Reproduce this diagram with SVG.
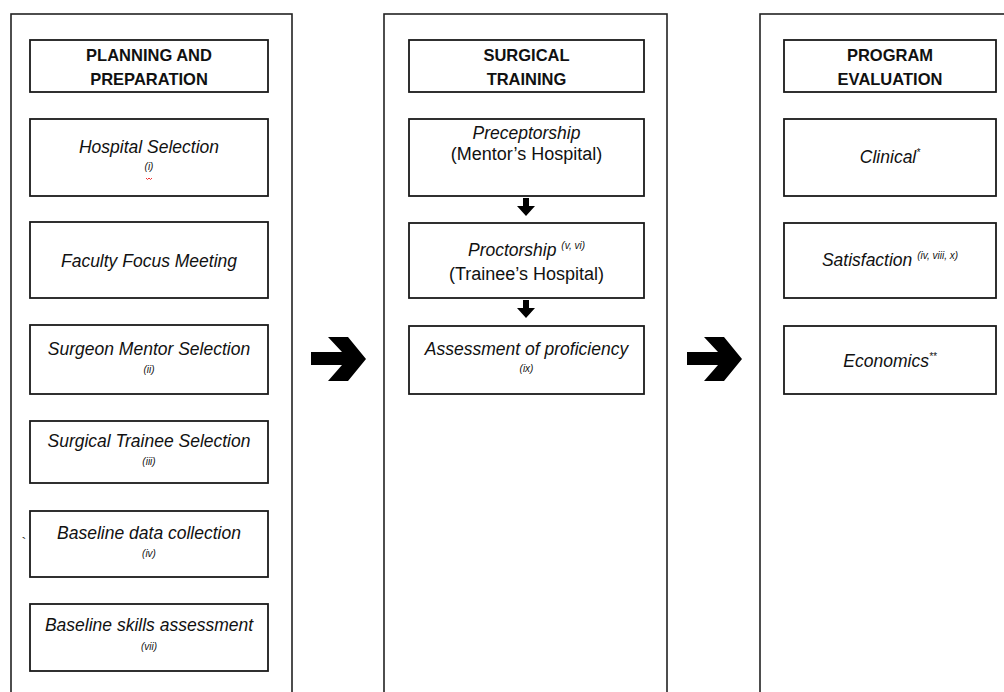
<svg xmlns="http://www.w3.org/2000/svg" width="1004" height="692" viewBox="0 0 1004 692">
<style>
.panel{fill:#fff;stroke:#222;stroke-width:1.6}
.box{fill:#fff;stroke:#1a1a1a;stroke-width:1.8}
text{font-family:"Liberation Sans",Arial,sans-serif;fill:#111;text-anchor:middle}
.hd{font-weight:bold;font-size:16.5px}
.it{font-style:italic;font-size:17.5px}
.up{font-size:18px}
.ref{font-style:italic;font-size:10px}
.sup{font-style:italic;font-size:10px}
.arr{fill:#000}
</style>
<rect width="1004" height="692" fill="#fff"/>
<g id="panel-planning"><rect class="panel" x="11" y="14" width="281" height="700"/></g>
<g id="panel-training"><rect class="panel" x="384" y="14" width="283" height="700"/></g>
<g id="panel-evaluation"><rect class="panel" x="760" y="14" width="300" height="700"/></g>

<g id="planning-header"><rect class="box" x="30" y="40" width="238" height="52"/>
<text class="hd" x="149" y="61">PLANNING AND</text><text class="hd" x="149" y="85">PREPARATION</text></g>
<g id="hospital-selection"><rect class="box" x="30" y="119" width="238" height="77"/>
<text class="it" x="149" y="153">Hospital Selection</text><text class="ref" x="149" y="170">(i)</text>
<path d="M146,178 l1.5,1.5 l1.5,-1.5 l1.5,1.5 l1.5,-1.5" fill="none" stroke="#e33" stroke-width="1"/></g>
<g id="faculty-focus"><rect class="box" x="30" y="222" width="238" height="76"/>
<text class="it" x="149" y="267">Faculty Focus Meeting</text></g>
<g id="surgeon-mentor"><rect class="box" x="30" y="325" width="238" height="69"/>
<text class="it" x="149" y="355">Surgeon Mentor Selection</text><text class="ref" x="149" y="373">(ii)</text></g>
<g id="trainee-selection"><rect class="box" x="30" y="421" width="238" height="62"/>
<text class="it" x="149" y="447">Surgical Trainee Selection</text><text class="ref" x="149" y="465">(iii)</text></g>
<g id="baseline-data"><rect class="box" x="30" y="511" width="238" height="66"/>
<text class="it" x="149" y="539">Baseline data collection</text><text class="ref" x="149" y="557">(iv)</text></g>
<text x="24" y="548" style="font-size:15px;fill:#333">`</text>
<g id="baseline-skills"><rect class="box" x="30" y="604" width="238" height="67"/>
<text class="it" x="149" y="631">Baseline skills assessment</text><text class="ref" x="149" y="650">(vii)</text></g>

<g id="training-header"><rect class="box" x="409" y="40" width="235" height="52"/>
<text class="hd" x="526.5" y="61">SURGICAL</text><text class="hd" x="526.5" y="85">TRAINING</text></g>
<g id="preceptorship"><rect class="box" x="409" y="119" width="235" height="77"/>
<text class="it" x="526.5" y="139">Preceptorship</text><text class="up" x="526.5" y="160">(Mentor’s Hospital)</text></g>
<g id="proctorship"><rect class="box" x="409" y="223" width="235" height="75"/>
<text class="it" x="526.5" y="256">Proctorship <tspan class="sup" dy="-7">(v, vi)</tspan></text><text class="up" x="526.5" y="280">(Trainee’s Hospital)</text></g>
<g id="assessment"><rect class="box" x="409" y="326" width="235" height="68"/>
<text class="it" x="526.5" y="355">Assessment of proficiency</text><text class="ref" x="526.5" y="372">(ix)</text></g>

<g id="evaluation-header"><rect class="box" x="784" y="40" width="212" height="52"/>
<text class="hd" x="890" y="61">PROGRAM</text><text class="hd" x="890" y="85">EVALUATION</text></g>
<g id="clinical"><rect class="box" x="784" y="119" width="212" height="77"/>
<text class="it" x="890" y="163">Clinical<tspan class="sup" dy="-7">*</tspan></text></g>
<g id="satisfaction"><rect class="box" x="784" y="223" width="212" height="75"/>
<text class="it" x="890" y="266">Satisfaction <tspan class="sup" dy="-7">(iv, viii, x)</tspan></text></g>
<g id="economics"><rect class="box" x="784" y="326" width="212" height="68"/>
<text class="it" x="890" y="367">Economics<tspan class="sup" dy="-7">**</tspan></text></g>

<g id="connectors">
<polygon class="arr" points="311,352 342,352 328,337 348,337 366,359 348,381 328,381 342,365 311,365"/>
<polygon class="arr" points="687,352 718,352 704,337 724,337 742,359 724,381 704,381 718,365 687,365"/>
<polygon class="arr" points="523,198 529,198 529,206 535,206 526,216 517,206 523,206"/>
<polygon class="arr" points="523,300 529,300 529,308 535,308 526,318 517,308 523,308"/>
</g>
</svg>
